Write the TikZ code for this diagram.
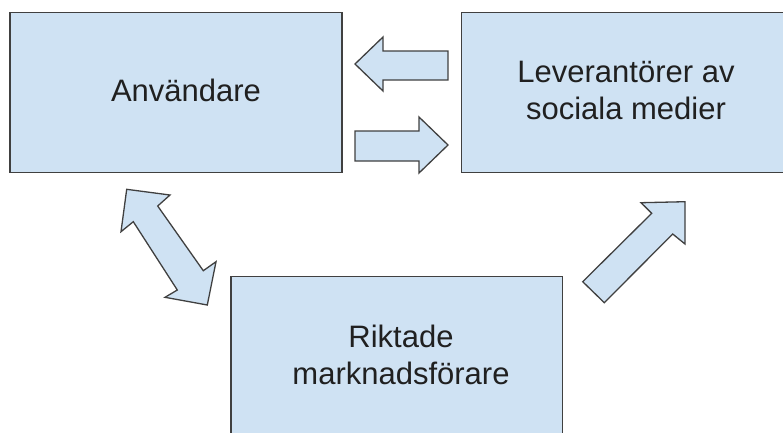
\documentclass[tikz,border=0pt]{standalone}
\usepackage{fontspec}
\setmainfont{Liberation Sans}
\definecolor{boxfill}{HTML}{CFE2F3}
\definecolor{boxline}{HTML}{404040}
\definecolor{txt}{HTML}{202020}
\begin{document}
\begin{tikzpicture}[x=1pt,y=-1pt,
  box/.style={draw=boxline,fill=boxfill,line width=1.3pt,inner sep=0pt},
  blockarrow/.style={draw=boxline,fill=boxfill,line width=1.3pt,line join=miter},
  lbl/.style={text=txt,inner sep=0pt,align=center,font=\fontsize{31}{37}\selectfont}]
\useasboundingbox (0,0) rectangle (783,432);
\begin{scope}
\clip (0,0) rectangle (783,432);
\node[box,minimum width=332pt,minimum height=160pt] (anv) at (176,92.7) {};
\node[box,minimum width=328.3pt,minimum height=160pt] (lev) at (625.85,92.7) {};
\node[box,minimum width=331.3pt,minimum height=180pt] (rik) at (396.65,366.7) {};
\end{scope}
\node[lbl,anchor=base] (anvt) at (186,101.7) {Användare};
\node[lbl] (levt) at (626,90.5) {Leverantörer av\\sociala medier};
\node[lbl] (rikt) at (401,354.5) {Riktade\\marknadsförare};
% block arrows
\draw[blockarrow] (448,51) -- (383,51) -- (383,37) -- (355,64) -- (383,91) -- (383,80) -- (448,80) -- cycle;
\draw[blockarrow] (355,131) -- (419,131) -- (419,117) -- (448,145) -- (419,173) -- (419,161) -- (355,161) -- cycle;
\draw[blockarrow] (126.7,189.3) -- (170,195) -- (157.7,206) -- (203.3,270.7) -- (216,261.7) -- (207.3,305) -- (165,297.3) -- (177.3,290) -- (133.3,221.7) -- (121,231.7) -- cycle;
\draw[blockarrow] (685,201.7) -- (685,244) -- (672.7,234) -- (604.3,302.7) -- (582.7,281.7) -- (651.7,213.3) -- (641,202.7) -- cycle;
\end{tikzpicture}
\end{document}
